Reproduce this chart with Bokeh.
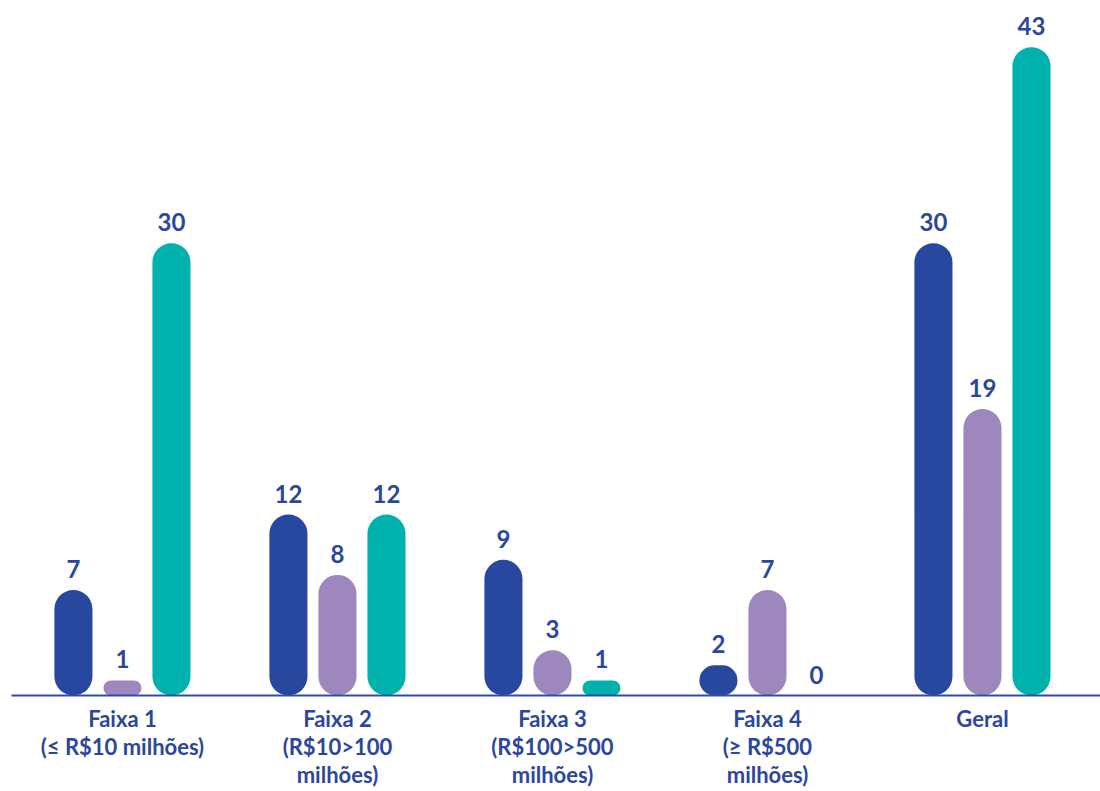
import numpy as np
from bokeh.plotting import figure
from bokeh.models import ColumnDataSource, Range1d, FixedTicker
from bokeh.core.properties import value
from bokeh.embed import file_html
from bokeh.resources import INLINE

categories = ["Faixa 1\n(≤ R$10 milhões)", "Faixa 2\n(R$10>100\nmilhões)",
              "Faixa 3\n(R$100>500\nmilhões)", "Faixa 4\n(≥ R$500\nmilhões)", "Geral"]
serie_a = [7, 12, 9, 2, 30]
serie_b = [1, 8, 3, 7, 19]
serie_c = [30, 12, 1, 0, 43]

colors = ["#28479e", "#9d87bd", "#00b2ae"]
label_color = "#2b479c"
FONT = "Lato"

p = figure(width=1100, height=791, output_backend="svg", toolbar_location=None,
           x_range=Range1d(-0.516, 4.549), y_range=Range1d(0, 46.1),
           min_border_left=11, min_border_right=0, min_border_top=0, min_border_bottom=60)
p.outline_line_color = None
p.xgrid.visible = False
p.ygrid.visible = False
p.yaxis.visible = False
p.background_fill_color = "white"
p.border_fill_color = "white"

idx = np.arange(len(categories))
offsets = [-0.228, 0.0, 0.228]
width = 0.177
for series, off, col in zip([serie_a, serie_b, serie_c], offsets, colors):
    vals = np.array(series, dtype=float)
    src = ColumnDataSource(dict(x=idx + off, top=vals, lab=[str(v) for v in series]))
    p.vbar(x="x", top="top", bottom=0, width=width, source=src, fill_color=col,
           line_color=None, border_radius=19)
    p.text(x="x", y="top", text="lab", source=src, y_offset=-12,
           text_align="center", text_baseline="bottom", text_color=label_color,
           text_font=value(FONT), text_font_style="bold", text_font_size="24px")

ax = p.xaxis[0]
ax.ticker = FixedTicker(ticks=list(idx))
ax.major_label_overrides = {int(i): c for i, c in zip(idx, categories)}
ax.major_tick_line_color = None
ax.minor_tick_line_color = None
ax.axis_line_color = "#2f4ca0"
ax.axis_line_width = 2
ax.major_label_standoff = 3
ax.major_label_text_font = FONT
ax.major_label_text_font_style = "bold"
ax.major_label_text_font_size = "22px"
ax.major_label_text_color = label_color
ax.major_label_text_line_height = 1.05

open("out.html", "w").write(file_html(p, INLINE))
